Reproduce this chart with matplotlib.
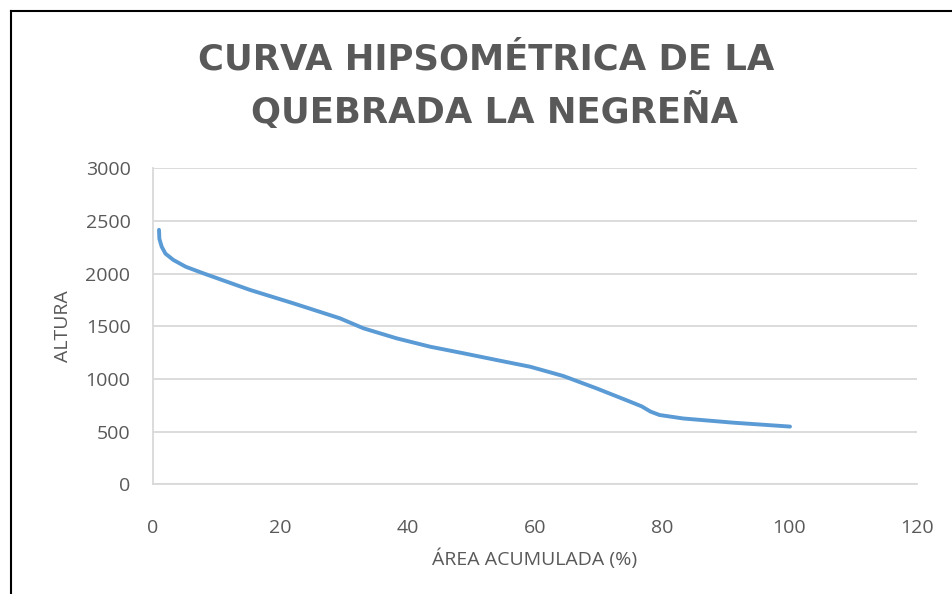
import matplotlib
matplotlib.use("Agg")
import matplotlib.pyplot as plt
from matplotlib.lines import Line2D

# Data
area_acumulada = [0.99, 1.05, 1.41, 2.0, 3.24, 5.2, 7.95, 15.3, 22.1, 29.4, 33.1, 38.3, 43.6,
                  48.8, 54.0, 59.3, 64.5, 69.7, 75.0, 76.8, 78.2, 79.6, 83.3, 91.2, 100.1]
altura = [2416, 2330, 2256, 2190, 2130, 2065, 2003, 1845, 1718, 1576, 1481, 1386, 1306,
          1244, 1180, 1116, 1028, 911, 784, 740, 690, 658, 625, 585, 548]

x_ticks = [0, 20, 40, 60, 80, 100, 120]
y_ticks = [0, 500, 1000, 1500, 2000, 2500, 3000]

title_lines = ["CURVA HIPSOMÉTRICA DE LA", "QUEBRADA LA NEGREÑA"]
x_label = "ÁREA ACUMULADA (%)"
y_label = "ALTURA"

GRAY = "#595959"
GRID = "#d9d9d9"
LINE = "#5b9bd5"
FONT = ["Open Sans", "DejaVu Sans"]

W, H = 952, 594
fig = plt.figure(figsize=(W / 100, H / 100), dpi=100)
fig.patch.set_facecolor("white")

left, right, top, bottom = 152.7, 916.7, 168.3, 484.3
ax = fig.add_axes([left / W, 1 - bottom / H, (right - left) / W, (bottom - top) / H])

ax.plot(area_acumulada, altura, color=LINE, lw=2.8, solid_capstyle="round",
        solid_joinstyle="round")

ax.set_xlim(0, 120)
ax.set_ylim(0, 3000)
ax.set_xticks(x_ticks)
ax.set_yticks(y_ticks)
ax.set_xticklabels([str(v) for v in x_ticks], fontfamily=FONT, fontsize=14, color=GRAY)
ax.set_yticklabels([str(v) for v in y_ticks], fontfamily=FONT, fontsize=14, color=GRAY)
ax.tick_params(axis="both", length=0)
ax.tick_params(axis="x", pad=25)
ax.tick_params(axis="y", pad=16)

ax.grid(axis="y", color=GRID, lw=1.3)
ax.set_axisbelow(True)
for s in ["top", "right"]:
    ax.spines[s].set_visible(False)
ax.spines["left"].set_color(GRID)
ax.spines["left"].set_linewidth(1.3)
ax.spines["bottom"].set_color(GRID)
ax.spines["bottom"].set_linewidth(1.3)

ax.set_xlabel(x_label, fontfamily=FONT, fontsize=14, color=GRAY, labelpad=8)
ax.set_ylabel(y_label, fontfamily=FONT, fontsize=14, color=GRAY, labelpad=10)

# Title
fig.text(486 / W, 1 - 59 / H, title_lines[0], ha="center", va="center",
         fontfamily=["DejaVu Sans"], fontweight="bold", fontsize=25.5, color=GRAY)
fig.text(494 / W, 1 - 111 / H, title_lines[1], ha="center", va="center",
         fontfamily=["DejaVu Sans"], fontweight="bold", fontsize=25.5, color=GRAY)

# Chart-area frame (only top and left visible in the crop)
fig.add_artist(Line2D([10.5 / W, 1.0], [1 - 10.5 / H, 1 - 10.5 / H],
                      transform=fig.transFigure, color="black", lw=1.5))
fig.add_artist(Line2D([10.5 / W, 10.5 / W], [0, 1 - 10.5 / H],
                      transform=fig.transFigure, color="black", lw=1.5))

fig.savefig("out.png", dpi=100, facecolor="white")
